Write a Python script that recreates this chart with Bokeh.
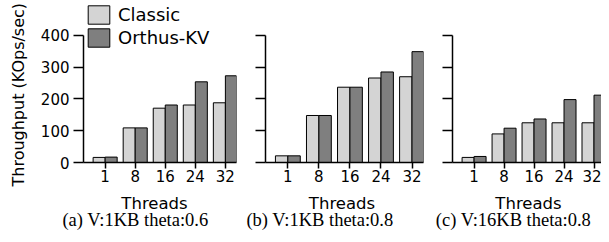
import numpy as np
from bokeh.plotting import figure
from bokeh.layouts import row, column
from bokeh.models import (Range1d, FixedTicker, Label, Legend, LegendItem,
                          ColumnDataSource, Title)
from bokeh.transform import dodge
from bokeh.embed import file_html
from bokeh.resources import INLINE

# ---------------- data ----------------
threads = ["1", "8", "16", "24", "32"]
classic_a = [16, 109, 171, 181, 188]
orthus_a = [17, 109, 181, 254, 273]
classic_b = [21, 148, 237, 266, 270]
orthus_b = [21, 148, 237, 285, 349]
classic_c = [16, 90, 125, 125, 125]
orthus_c = [19, 108, 137, 198, 212]
y_ticks = [0, 100, 200, 300, 400]
series_names = ["Classic", "Orthus-KV"]
captions = ["(a) V:1KB theta:0.6", "(b) V:1KB theta:0.8", "(c) V:16KB theta:0.8"]
y_title = "Throughput (KOps/sec)"
x_title = "Threads"

# ---------------- style ----------------
SANS = "DejaVu Sans"
SERIF = "Liberation Serif"
COL_CLASSIC = "#d4d4d4"
COL_ORTHUS = "#7f7f7f"
FRAME_H = 162
TOP_H = 187
BOT_H = 234 - TOP_H


def make_panel(classic, orthus, width, left, right, x_end, first):
    p = figure(width=width, height=TOP_H, title=None,
               x_range=Range1d(-0.72, x_end), y_range=Range1d(0, 510),
               output_backend="svg", toolbar_location=None,
               min_border_left=left, min_border_right=right,
               min_border_top=0, min_border_bottom=TOP_H - FRAME_H)
    p.outline_line_color = None
    p.grid.visible = False
    idx = list(range(len(threads)))
    src = ColumnDataSource(dict(x=idx, classic=classic, orthus=orthus))
    r1 = p.vbar(x=dodge("x", -0.2), top="classic", width=0.4, source=src,
                fill_color=COL_CLASSIC, line_color="black", line_width=1)
    r2 = p.vbar(x=dodge("x", 0.2), top="orthus", width=0.4, source=src,
                fill_color=COL_ORTHUS, line_color="black", line_width=1)

    xa = p.xaxis[0]
    xa.ticker = FixedTicker(ticks=idx)
    xa.major_label_overrides = {i: t for i, t in zip(idx, threads)}
    xa.minor_tick_line_color = None
    xa.major_tick_in = 0
    xa.major_tick_out = 6
    xa.axis_line_width = 1.5
    xa.major_tick_line_width = 1.5
    xa.major_label_standoff = 1
    xa.major_label_text_font = SANS
    xa.major_label_text_font_size = "15px"
    xa.major_label_text_color = "black"

    ya = p.yaxis[0]
    ya.ticker = FixedTicker(ticks=y_ticks)
    ya.bounds = (y_ticks[0], y_ticks[-1])
    ya.minor_tick_line_color = None
    ya.major_tick_in = 0
    ya.major_tick_out = 10
    ya.axis_line_width = 1.5
    ya.major_tick_line_width = 1.5
    ya.major_label_standoff = 4
    ya.major_label_text_font = SANS
    ya.major_label_text_font_size = "15px"
    ya.major_label_text_color = "black"
    if not first:
        ya.major_label_overrides = {t: "" for t in y_ticks}
    return p, r1, r2


p1, r1, r2 = make_panel(classic_a, orthus_a, 243, 79, 7, 4.37, True)
p2, _, _ = make_panel(classic_b, orthus_b, 187, 22, 7, 4.37, False)
p3, _, _ = make_panel(classic_c, orthus_c, 171, 22, 0, 4.25, False)

# y-axis title: a left-side title that starts below the frame bottom,
# so it sits beside the 0-400 axis line as in the reference
ytitle = Title(text=y_title, align="left", vertical_align="top", offset=-24,
               text_font=SANS, text_font_size="16px", text_font_style="normal",
               text_color="black")
try:
    ytitle.standoff = 16
except Exception:
    pass
p1.add_layout(ytitle, "left")

legend = Legend(items=[LegendItem(label=series_names[0], renderers=[r1]),
                       LegendItem(label=series_names[1], renderers=[r2])],
                location=(2, FRAME_H - 46 - 3), orientation="vertical",
                glyph_width=27, glyph_height=23, label_height=23,
                label_standoff=6, spacing=0, padding=0, margin=0,
                border_line_color=None, background_fill_alpha=0,
                label_text_font=SANS, label_text_font_size="18px",
                label_text_color="black")
p1.add_layout(legend)

# strip below the panels: x-axis titles and sub-captions
pb = figure(width=601, height=BOT_H, x_range=Range1d(0, 1), y_range=Range1d(0, 1),
            output_backend="svg", toolbar_location=None, title=None,
            x_axis_location=None, y_axis_location=None, min_border=0)
pb.outline_line_color = None
pb.grid.visible = False
for cx in [154, 341.5, 528]:
    pb.add_layout(Label(x=cx, y=BOT_H - (202.5 - TOP_H), x_units="screen", y_units="screen",
                        text=x_title, text_font=SANS, text_font_size="16.5px",
                        text_align="center", text_baseline="alphabetic",
                        text_color="black"))
for cx, txt in zip([135, 319.5, 513], captions):
    pb.add_layout(Label(x=cx, y=BOT_H - (219 - TOP_H), x_units="screen", y_units="screen",
                        text=txt, text_font=SERIF, text_font_size="18.5px",
                        text_align="center", text_baseline="alphabetic",
                        text_color="black"))

layout = column(row(p1, p2, p3, spacing=0), pb, spacing=0)
open("out.html", "w").write(file_html(layout, INLINE))
